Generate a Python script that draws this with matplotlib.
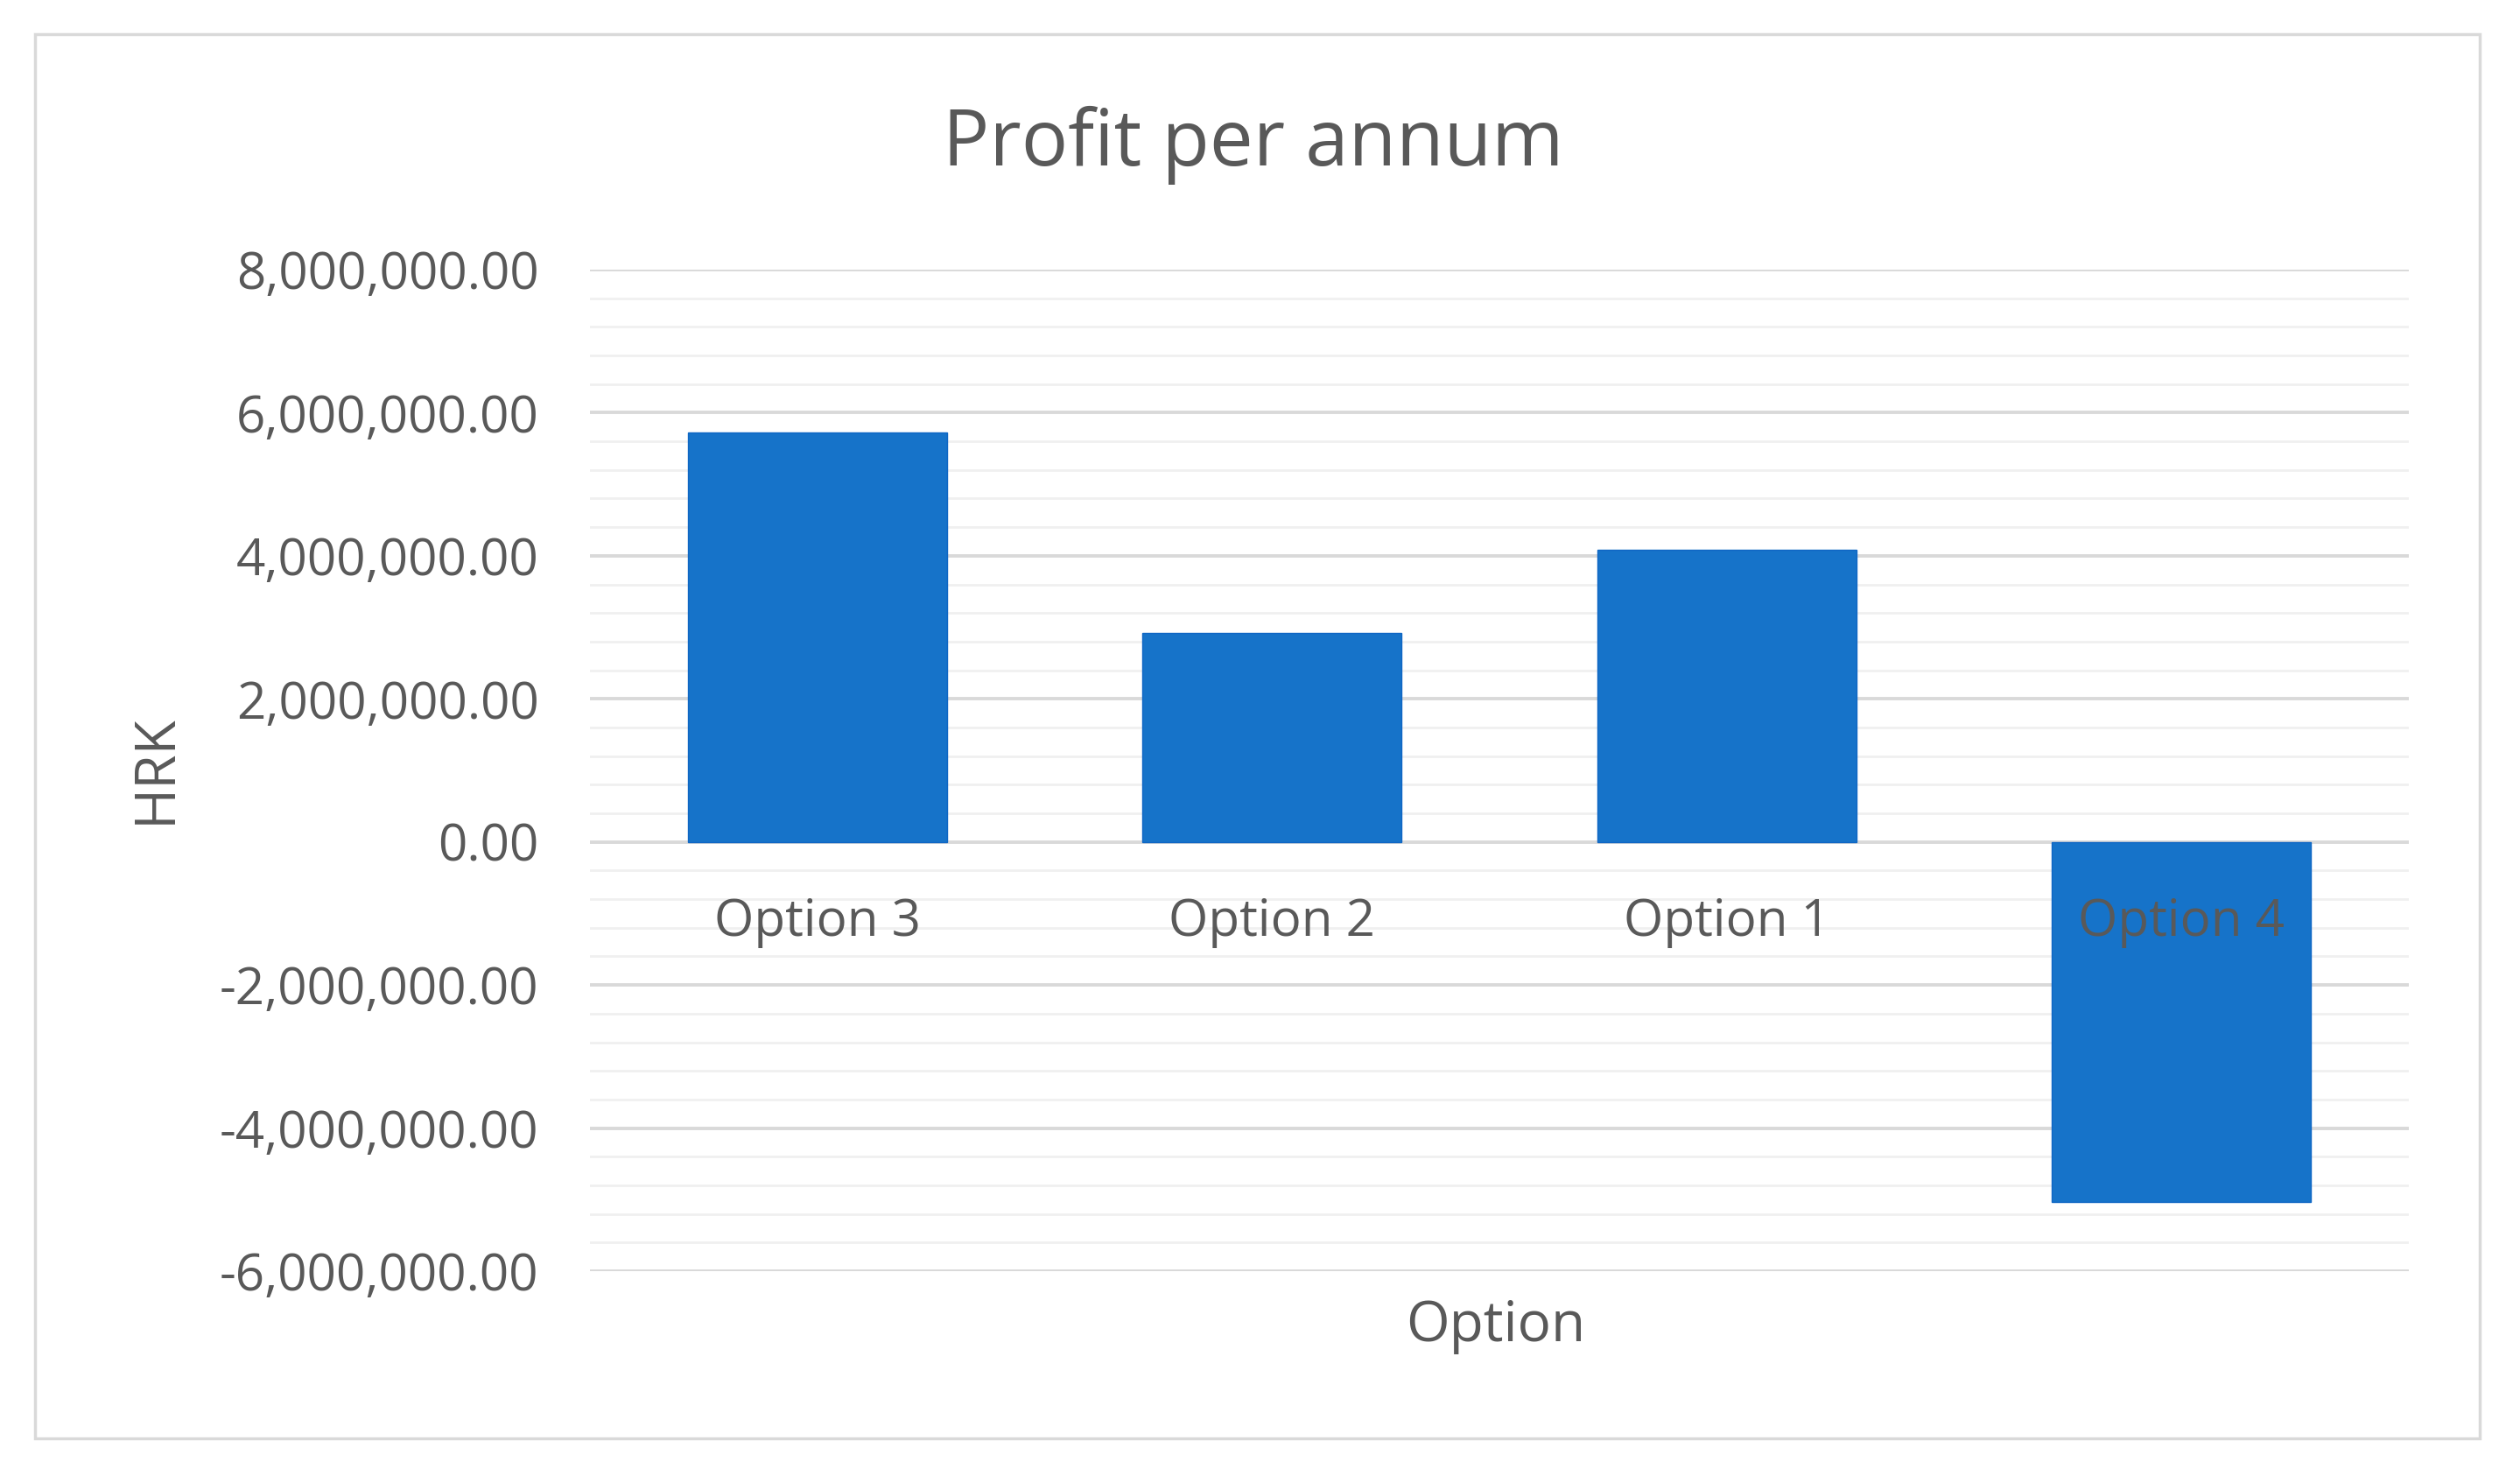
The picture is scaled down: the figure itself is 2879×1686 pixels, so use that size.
import matplotlib
matplotlib.use("Agg")
import matplotlib.pyplot as plt
from matplotlib.ticker import FuncFormatter, MultipleLocator
from matplotlib.patches import Rectangle
import matplotlib.transforms as mtransforms

categories = ["Option 3", "Option 2", "Option 1", "Option 4"]
profit = [5720000, 2920000, 4090000, -5030000]
y_ticks = [-6000000, -4000000, -2000000, 0, 2000000, 4000000, 6000000, 8000000]
title = "Profit per annum"
x_label = "Option"
y_label = "HRK"

plt.rcParams['font.family'] = ['Open Sans', 'DejaVu Sans']
TEXT = "#595959"
BAR = "#1673C9"

W, H = 2879, 1686
fig = plt.figure(figsize=(W / 100, H / 100), dpi=100)
fig.patch.set_facecolor("white")

# outer chart frame
fig.patches.append(Rectangle((40 / W, 1 - 1643 / H), (2833 - 40) / W, (1643 - 39) / H,
                             transform=fig.transFigure, fill=False,
                             edgecolor="#D9D9D9", linewidth=2.5, zorder=0))

ax = fig.add_axes([674 / W, 1 - 1452 / H, (2752 - 674) / W, (1452 - 308) / H])
x = list(range(len(categories)))
ax.bar(x, profit, width=0.57, color=BAR, edgecolor="#0F66C4", linewidth=1.0, zorder=3)

ax.set_xlim(-0.5, len(categories) - 0.5)
ax.set_ylim(y_ticks[0], y_ticks[-1])
ax.set_yticks(y_ticks)
ax.yaxis.set_minor_locator(MultipleLocator(400000))
ax.yaxis.set_major_formatter(FuncFormatter(lambda v, p: f"{v:,.2f}"))
ax.grid(axis="y", which="major", color="#D9D9D9", linewidth=2.8, zorder=1)
ax.grid(axis="y", which="minor", color="#F0F0F0", linewidth=2.0, zorder=1)
ax.tick_params(axis="y", which="both", length=0, pad=42, labelsize=42, labelcolor=TEXT)
ax.tick_params(axis="x", length=0, labelbottom=False)
for s in ax.spines.values():
    s.set_visible(False)

# category labels next to the zero axis
trans = mtransforms.offset_copy(ax.transData, fig=fig, x=0, y=-92, units="dots")
for xi, name in zip(x, categories):
    ax.text(xi, 0, name, transform=trans, ha="center", va="center",
            fontsize=42, color=TEXT, zorder=5)

fig.text(1432 / W, 1 - 166 / H, title, ha="center", va="center", fontsize=64, color=TEXT)
fig.text(1709 / W, 1 - 1515 / H, x_label, ha="center", va="center", fontsize=46, color=TEXT)
fig.text(178 / W, 1 - 878 / H, y_label, ha="center", va="center", rotation=90,
         fontsize=46, color=TEXT)

fig.savefig("out.png", dpi=100, facecolor="white")
